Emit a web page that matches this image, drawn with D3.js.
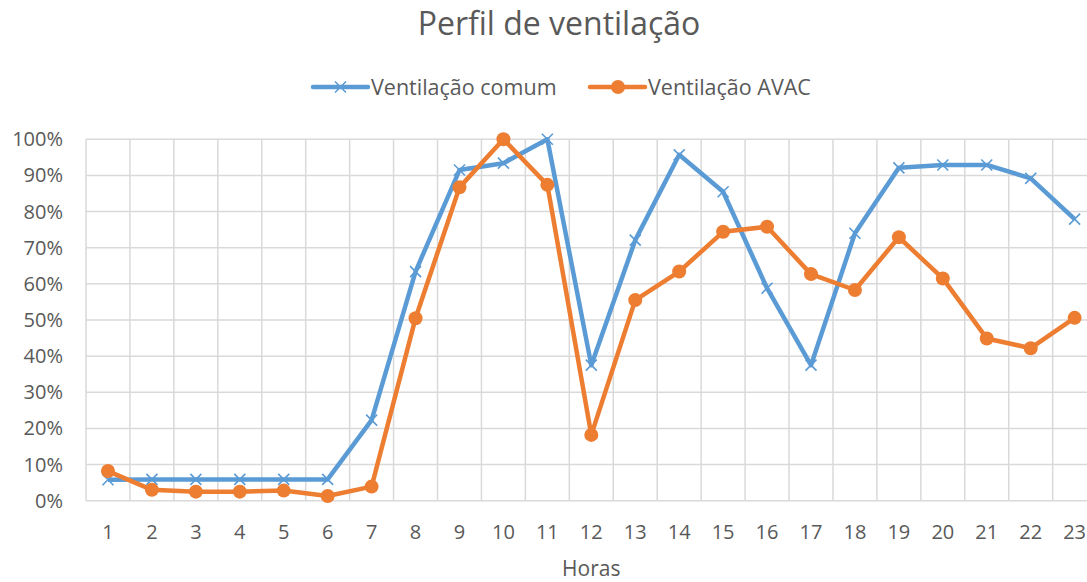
<!DOCTYPE html>
<html>
<head>
<meta charset="utf-8">
<script src="https://cdn.jsdelivr.net/npm/d3@7"></script>
<style>
  body { margin: 0; background: #fff; }
  svg text { font-family: "Open Sans", "Liberation Sans", sans-serif; fill: #595959; }
</style>
</head>
<body>
<div id="chart"></div>
<script>
// --- datos ---
const horas = d3.range(1, 24);
const ventComum = [5.8, 5.9, 5.9, 5.9, 5.9, 5.9, 22.3, 63.4, 91.5, 93.4, 100, 37.5, 72.1, 95.7, 85.5, 58.8, 37.5, 74, 92.1, 92.9, 92.9, 89.2, 77.9];
const ventAVAC = [8.2, 3.0, 2.5, 2.5, 2.8, 1.3, 3.9, 50.5, 86.7, 100, 87.4, 18.2, 55.5, 63.4, 74.4, 75.8, 62.7, 58.3, 72.9, 61.5, 44.9, 42.2, 50.6];
const yTicks = [0, 10, 20, 30, 40, 50, 60, 70, 80, 90, 100];

const W = 1087, H = 582;
const plot = { left: 86, right: 1096.6, top: 139.3, bottom: 500.7 };

const svg = d3.select("#chart").append("svg")
  .attr("width", W).attr("height", H);

const x = d3.scaleBand().domain(horas).range([plot.left, plot.right]);
const y = d3.scaleLinear().domain([0, 100]).range([plot.bottom, plot.top]);
const cx = h => x(h) + x.bandwidth() / 2;

// rejilla horizontal
svg.append("g").selectAll("line").data(yTicks).join("line")
  .attr("x1", plot.left).attr("x2", plot.right)
  .attr("y1", d => y(d)).attr("y2", d => y(d))
  .attr("stroke", "#d9d9d9").attr("stroke-width", 1.5);

// rejilla vertical (límites de categoría)
const bounds = horas.map(h => x(h)).concat([plot.right]);
svg.append("g").selectAll("line").data(bounds).join("line")
  .attr("x1", d => d).attr("x2", d => d)
  .attr("y1", plot.top).attr("y2", plot.bottom)
  .attr("stroke", "#d9d9d9").attr("stroke-width", 1.5);

// eje Y
svg.append("g").selectAll("text").data(yTicks).join("text")
  .attr("x", 63).attr("y", d => y(d))
  .attr("dy", "0.35em").attr("text-anchor", "end")
  .style("font-size", "20px")
  .text(d => d + "%");

// eje X
svg.append("g").selectAll("text").data(horas).join("text")
  .attr("x", d => cx(d)).attr("y", 532)
  .attr("dy", "0.35em").attr("text-anchor", "middle")
  .style("font-size", "20px")
  .text(d => d);

svg.append("text")
  .attr("x", (plot.left + plot.right) / 2).attr("y", 576)
  .attr("text-anchor", "middle")
  .style("font-size", "21px")
  .text("Horas");

// título
svg.append("text")
  .attr("x", 559).attr("y", 24)
  .attr("dy", "0.35em").attr("text-anchor", "middle")
  .style("font-size", "32px")
  .text("Perfil de ventilação");

const blue = "#5b9bd5", orange = "#ed7d31";
const line = d3.line().x((d, i) => cx(horas[i])).y(d => y(d));

// serie azul
svg.append("path").datum(ventComum)
  .attr("d", line).attr("fill", "none")
  .attr("stroke", blue).attr("stroke-width", 4.5).attr("stroke-linejoin", "round");
svg.append("g").selectAll("path").data(ventComum).join("path")
  .attr("transform", (d, i) => `translate(${cx(horas[i])},${y(d)})`)
  .attr("d", "M-5.5,-5.5L5.5,5.5M-5.5,5.5L5.5,-5.5")
  .attr("stroke", blue).attr("stroke-width", 1.6).attr("fill", "none");

// serie naranja
svg.append("path").datum(ventAVAC)
  .attr("d", line).attr("fill", "none")
  .attr("stroke", orange).attr("stroke-width", 4.5).attr("stroke-linejoin", "round");
svg.append("g").selectAll("circle").data(ventAVAC).join("circle")
  .attr("cx", (d, i) => cx(horas[i])).attr("cy", d => y(d))
  .attr("r", 7).attr("fill", orange);

// leyenda
const legend = [
  { name: "Ventilação comum", color: blue, x: 313, mark: "x" },
  { name: "Ventilação AVAC", color: orange, x: 590, mark: "o" }
];
const lg = svg.append("g").selectAll("g").data(legend).join("g")
  .attr("transform", d => `translate(${d.x},87)`);
lg.append("line").attr("x1", 0).attr("x2", 55)
  .attr("stroke", d => d.color).attr("stroke-width", 4.5).attr("stroke-linecap", "round");
lg.filter(d => d.mark === "x").append("path")
  .attr("d", "M22,-5.5L33,5.5M22,5.5L33,-5.5")
  .attr("stroke", d => d.color).attr("stroke-width", 1.6);
lg.filter(d => d.mark === "o").append("circle")
  .attr("cx", 28).attr("r", 7).attr("fill", d => d.color);
lg.append("text").attr("x", 58).attr("dy", "0.35em")
  .style("font-size", "21.5px")
  .text(d => d.name);
</script>
</body>
</html>
